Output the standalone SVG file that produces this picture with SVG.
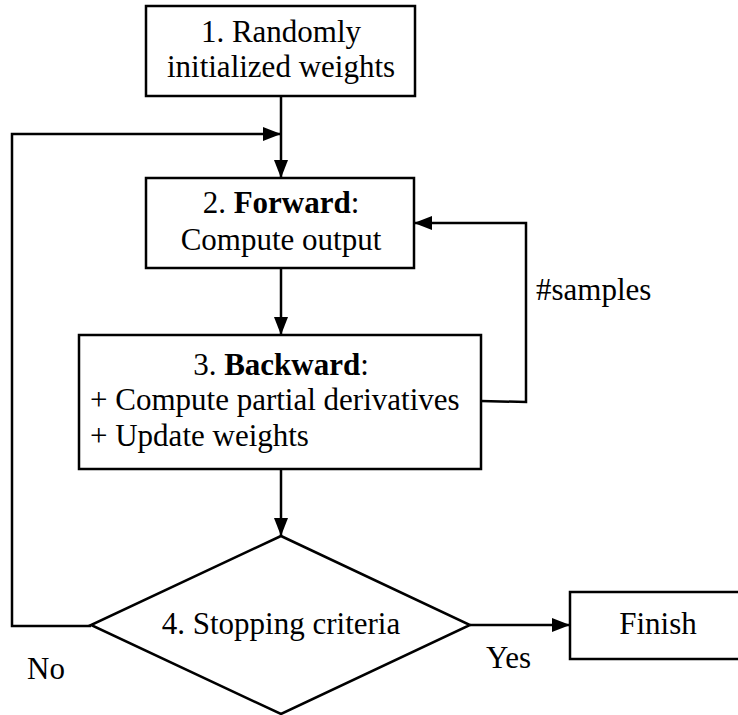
<svg xmlns="http://www.w3.org/2000/svg" width="738" height="715" viewBox="0 0 738 715" font-family="'Liberation Serif', 'Times New Roman', Times, 'DejaVu Serif', serif">
  <style>
    .shape { fill: #ffffff; stroke: #000000; stroke-width: 2.5; }
    .wire { fill: none; stroke: #000000; stroke-width: 2.5; }
    text { font-family: 'Liberation Serif', 'Times New Roman', Times, 'DejaVu Serif', serif; font-size: 31px; fill: #000000; }
    .mid { text-anchor: middle; }
    .bold { font-weight: bold; }
  </style>
  <defs>
    <marker id="arrow" viewBox="0 0 18 14" refX="18" refY="7" markerWidth="18" markerHeight="14" markerUnits="userSpaceOnUse" orient="auto">
      <path d="M0,0 L18,7 L0,14 Z" fill="#000000"/>
    </marker>
  </defs>
  <rect width="738" height="715" fill="#ffffff"/>

  <!-- connectors and their labels -->
  <g id="connectors">
    <line class="wire" x1="281" y1="96" x2="281" y2="178" marker-end="url(#arrow)"/>
    <polyline class="wire" points="91,626 12,626 12,134 281,134" marker-end="url(#arrow)"/>
    <polyline class="wire" points="481,401 526,402 526,223 414,223" marker-end="url(#arrow)"/>
    <line class="wire" x1="281" y1="268" x2="281" y2="335" marker-end="url(#arrow)"/>
    <line class="wire" x1="281" y1="469" x2="281" y2="536" marker-end="url(#arrow)"/>
    <line class="wire" x1="470" y1="625" x2="570" y2="625" marker-end="url(#arrow)"/>
    <text x="536" y="300" font-family="Liberation Serif, serif">#samples</text>
    <text x="486" y="668" font-family="Liberation Serif, serif">Yes</text>
    <text x="27" y="679" font-family="Liberation Serif, serif">No</text>
  </g>

  <g id="init">
    <rect class="shape" x="146" y="6" width="269" height="90"/>
    <text class="mid" x="281" y="42">1. Randomly</text>
    <text class="mid" x="281" y="77">initialized weights</text>
  </g>

  <g id="forward">
    <rect class="shape" x="146" y="178" width="268" height="90"/>
    <text class="mid" x="281" y="213">2. <tspan class="bold">Forward</tspan>:</text>
    <text class="mid" x="281" y="250">Compute output</text>
  </g>

  <g id="backward">
    <rect class="shape" x="79" y="335" width="402" height="134"/>
    <text class="mid" x="281" y="375">3. <tspan class="bold">Backward</tspan>:</text>
    <text x="90" y="410">+ Compute partial derivatives</text>
    <text x="90" y="446">+ Update weights</text>
  </g>

  <g id="stopping">
    <polygon class="shape" points="281,536 470,625 281,714 91,625"/>
    <text class="mid" x="281" y="634">4. Stopping criteria</text>
  </g>

  <g id="finish">
    <rect class="shape" x="570" y="592" width="172" height="67"/>
    <text class="mid" x="658" y="634">Finish</text>
  </g>
</svg>
